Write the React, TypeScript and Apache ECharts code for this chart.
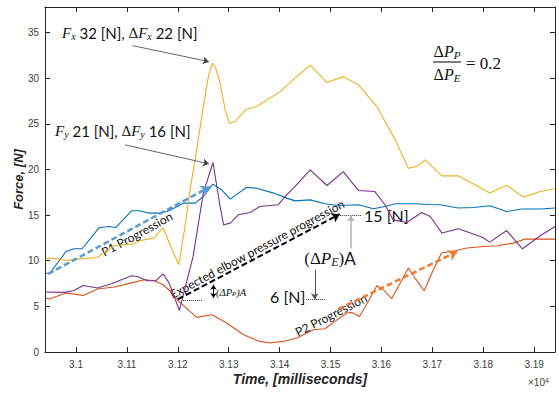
import React, { useEffect, useRef } from "react";
import * as echarts from "echarts";

// ---- Axis ticks ----
const xTickValues = [31000, 31100, 31200, 31300, 31400, 31500, 31600, 31700, 31800, 31900];
const xTickLabels = ["3.1", "3.11", "3.12", "3.13", "3.14", "3.15", "3.16", "3.17", "3.18", "3.19"];
const yTickValues = [0, 5, 10, 15, 20, 25, 30, 35];
const yTickLabels = ["0", "5", "10", "15", "20", "25", "30", "35"];
const xRange = [30939, 31941];
const yRange = [0, 37.8];

// ---- Series: [time (ms), force (N)] ----
const blueSeries = [
  [30940, 8.65], [30948, 8.57], [30980, 11.01], [30996, 11.31], [31012, 11.31], [31045, 13.61],
  [31065, 13.75], [31078, 13.64], [31109, 15.47], [31124, 15.47], [31143, 15.22], [31163, 15.22],
  [31179, 15.39], [31202, 16.02], [31211, 16.31], [31234, 16.31], [31250, 17.04], [31269, 18.39],
  [31286, 17.77], [31303, 16.75], [31319, 17.41], [31335, 18.02], [31355, 17.95], [31388, 17.41],
  [31414, 16.86], [31430, 16.56], [31460, 16.67], [31489, 16.24], [31515, 16.05], [31555, 16.13],
  [31584, 15.69], [31607, 15.94], [31627, 16.24], [31663, 16.24], [31696, 16.16], [31715, 16.13],
  [31751, 15.77], [31781, 15.83], [31813, 16.02], [31846, 15.39], [31876, 15.66], [31912, 15.66],
  [31941, 15.77],
];
const yellowSeries = [
  [30940, 10.18], [30948, 10.29], [30960, 10.21], [30980, 10.03], [31002, 10.18], [31042, 10.36],
  [31058, 11.01], [31075, 11.64], [31091, 11.75], [31111, 11.82], [31127, 12.22], [31153, 12.48],
  [31171, 13.64], [31186, 11.56], [31202, 9.56], [31214, 13.75], [31224, 17.77], [31237, 22.15],
  [31250, 26.89], [31260, 30.17], [31268, 31.64], [31274, 31.2], [31283, 29.45], [31293, 26.53],
  [31301, 25.07], [31312, 25.25], [31335, 26.6], [31355, 26.89], [31401, 28.53], [31430, 30.0],
  [31460, 31.42], [31493, 29.52], [31525, 30.17], [31555, 29.26], [31591, 26.89], [31627, 23.24],
  [31653, 20.14], [31669, 20.32], [31686, 21.05], [31719, 19.3], [31751, 19.3], [31813, 17.41],
  [31846, 18.26], [31879, 16.97], [31912, 17.58], [31941, 17.88],
];
const purpleSeries = [
  [30940, 6.57], [30980, 6.53], [30996, 6.74], [31014, 7.29], [31042, 7.01], [31068, 7.44],
  [31109, 8.35], [31120, 8.28], [31140, 7.81], [31157, 7.81], [31171, 8.57], [31183, 7.55],
  [31203, 4.55], [31230, 10.47], [31250, 17.41], [31269, 20.76], [31283, 15.94], [31290, 13.94],
  [31303, 14.12], [31319, 15.03], [31342, 15.28], [31361, 15.94], [31397, 16.13], [31411, 17.04],
  [31430, 18.13], [31460, 19.96], [31493, 18.24], [31525, 19.77], [31555, 17.69], [31587, 17.58],
  [31607, 16.13], [31623, 14.48], [31650, 14.19], [31679, 15.28], [31696, 14.85], [31719, 13.03],
  [31751, 13.5], [31797, 12.59], [31813, 12.04], [31846, 13.31], [31877, 11.31], [31912, 12.73],
  [31941, 13.75],
];
const orangeSeries = [
  [30940, 5.91], [30948, 5.8], [30980, 6.46], [31014, 6.2], [31042, 6.9], [31075, 7.12],
  [31107, 7.55], [31134, 7.92], [31153, 7.84], [31171, 7.37], [31186, 6.63], [31202, 5.54],
  [31237, 3.79], [31267, 4.08], [31296, 3.17], [31329, 1.89], [31361, 1.16], [31381, 0.99],
  [31407, 1.16], [31434, 1.53], [31466, 2.44], [31489, 2.55], [31509, 3.35], [31532, 4.27],
  [31542, 4.34], [31557, 3.9], [31574, 5.54], [31591, 7.26], [31604, 6.82], [31620, 5.84],
  [31637, 7.55], [31653, 9.2], [31666, 8.1], [31684, 6.71], [31702, 9.01], [31718, 10.84],
  [31745, 11.09], [31768, 11.39], [31800, 11.56], [31827, 11.64], [31859, 11.93], [31882, 12.37],
  [31941, 12.37],
];

// ---- Annotation geometry (data coordinates) ----
const p1Progression = [[30945, 8.55], [31263, 18.1]];
const elbowProgression = [[31200, 5.78], [31518, 15.1]];
const p2Progression = [[31515, 4.7], [31749, 11.0]];
const fxArrow = [[31111, 33.57], [31261, 31.81]];
const fyArrow = [[31096, 22.7], [31261, 20.62]];
const dpPDotted = [[31210, 5.62], [31248, 5.62]];
const dpPArrow = [[31270, 7.37], [31270, 5.91]];
const sixDotted = [[31452, 5.73], [31489, 5.73]];
const sixArrow = [[31469, 9.0], [31469, 5.78]];
const fifteenDotted = [[31515, 15.03], [31561, 15.03]];
const fifteenArrow = [[31540, 11.39], [31540, 14.95]];

const axisColor = "#262626";
const labelColor = "#404040";
const sans = "'Liberation Sans', Arial, sans-serif";
const serif = "'Liberation Serif', 'DejaVu Serif', serif";
const body = "Lato, 'Open Sans', sans-serif";

function seg(pts: number[][], color: string, width: number, type: any, startSym: string, endSym: string, size: number) {
  return [
    { coord: pts[0], symbol: startSym, symbolSize: size, lineStyle: { color, width, type }, itemStyle: { color: "#000" } },
    { coord: pts[1], symbol: endSym, symbolSize: size, itemStyle: { color: "#000" } },
  ];
}

const mathRich = (size: number) => ({
  it: { fontFamily: serif, fontStyle: "italic", fontSize: size, fill: "#111" },
  m: { fontFamily: serif, fontSize: size, fill: "#111" },
  sub: { fontFamily: serif, fontStyle: "italic", fontSize: Math.round(size * 0.68), fill: "#111", verticalAlign: "bottom", padding: [size * 0.5, 0, 0, 0] },
  n: { fontFamily: body, fontSize: size, fill: "#111" },
});

export default function App() {
  const ref = useRef<HTMLDivElement>(null);
  useEffect(() => {
    if (!ref.current) return;
    const chart = echarts.init(ref.current, null, { renderer: "svg" });
    const baseX = {
      type: "value",
      min: xRange[0],
      max: xRange[1],
      splitLine: { show: false },
      axisLine: { show: true, onZero: false, lineStyle: { color: axisColor, width: 1 } },
    };
    const baseY = {
      type: "value",
      min: yRange[0],
      max: yRange[1],
      splitLine: { show: false },
      axisLine: { show: true, onZero: false, lineStyle: { color: axisColor, width: 1 } },
    };
    const option: any = {
      animation: false,
      grid: { left: 45, right: 4, top: 7, bottom: 43, containLabel: false },
      xAxis: [
        {
          ...baseX,
          position: "bottom",
          axisTick: { show: true, inside: true, length: 5, customValues: xTickValues, lineStyle: { color: axisColor } },
          axisLabel: {
            customValues: xTickValues,
            formatter: (v: number) => xTickLabels[xTickValues.indexOf(v)] ?? "",
            color: labelColor, fontSize: 10, fontFamily: sans, margin: 7,
          },
          name: "Time, [milliseconds]",
          nameLocation: "middle",
          nameGap: 20,
          nameMoveOverlap: false,
          nameTextStyle: { fontFamily: sans, fontWeight: "bold", fontStyle: "italic", fontSize: 14, color: axisColor },
        },
        {
          ...baseX,
          position: "top",
          axisTick: { show: true, inside: true, length: 5, customValues: xTickValues, lineStyle: { color: axisColor } },
          axisLabel: { show: false },
        },
      ],
      yAxis: [
        {
          ...baseY,
          position: "left",
          axisTick: { show: true, inside: true, length: 5, customValues: yTickValues, lineStyle: { color: axisColor } },
          axisLabel: {
            customValues: yTickValues,
            formatter: (v: number) => yTickLabels[yTickValues.indexOf(v)] ?? "",
            color: labelColor, fontSize: 10, fontFamily: sans, margin: 6,
          },
          name: "Force, [N]",
          nameLocation: "middle",
          nameGap: 20,
          nameMoveOverlap: false,
          nameTextStyle: { fontFamily: sans, fontWeight: "bold", fontStyle: "italic", fontSize: 13, color: axisColor },
        },
        {
          ...baseY,
          position: "right",
          axisTick: { show: true, inside: true, length: 5, customValues: yTickValues, lineStyle: { color: axisColor } },
          axisLabel: { show: false },
        },
      ],
      series: [
        { type: "line", data: blueSeries, showSymbol: false, symbol: "none", lineStyle: { color: "#0072BD", width: 1.1 }, z: 2 },
        { type: "line", data: orangeSeries, showSymbol: false, symbol: "none", lineStyle: { color: "#D95319", width: 1.1 }, z: 2 },
        { type: "line", data: yellowSeries, showSymbol: false, symbol: "none", lineStyle: { color: "#EDB120", width: 1.1 }, z: 2 },
        { type: "line", data: purpleSeries, showSymbol: false, symbol: "none", lineStyle: { color: "#7E2F8E", width: 1.1 }, z: 2 },
        {
          type: "line",
          data: [],
          z: 5,
          markLine: {
            silent: true,
            animation: false,
            label: { show: false },
            data: [
              seg(p1Progression, "#5B9BD5", 2.5, [6, 3], "none", "arrow", 9),
              seg(elbowProgression, "#000", 2, [6, 3], "none", "arrow", 8),
              seg(p2Progression, "#ED7D31", 2.5, [6, 3], "none", "arrow", 9),
              seg(fxArrow, "#404040", 0.8, "solid", "none", "arrow", 6),
              seg(fyArrow, "#404040", 0.8, "solid", "none", "arrow", 6),
              seg(dpPDotted, "#333", 1, "dotted", "none", "none", 1),
              seg(dpPArrow, "#000", 1, "solid", "arrow", "arrow", 5),
              seg(sixDotted, "#333", 1, "dotted", "none", "none", 1),
              seg(sixArrow, "#555", 1, "solid", "none", "arrow", 6),
              seg(fifteenDotted, "#333", 1, "dotted", "none", "none", 1),
              seg(fifteenArrow, "#b0b0b0", 1.5, "solid", "none", "arrow", 6),
            ],
          },
        },
      ],
      graphic: [
        {
          type: "text", x: 62, y: 33,
          style: { text: "{it|F}{sub|x}{n| 32 [N], }{m|Δ}{it|F}{sub|x}{n| 22 [N]}", rich: mathRich(15), verticalAlign: "middle", align: "left" },
        },
        {
          type: "text", x: 55, y: 131,
          style: { text: "{it|F}{sub|y}{n| 21 [N], }{m|Δ}{it|F}{sub|y}{n| 16 [N]}", rich: mathRich(15), verticalAlign: "middle", align: "left" },
        },
        {
          type: "text", x: 447, y: 51,
          style: { text: "{m|Δ}{it|P}{sub|P}", rich: mathRich(16), verticalAlign: "middle", align: "center" },
        },
        { type: "line", shape: { x1: 433, y1: 62, x2: 461, y2: 62 }, style: { stroke: "#555", lineWidth: 1.5 } },
        {
          type: "text", x: 447, y: 74,
          style: { text: "{m|Δ}{it|P}{sub|E}", rich: mathRich(16), verticalAlign: "middle", align: "center" },
        },
        {
          type: "text", x: 466, y: 63,
          style: { text: "= 0.2", fontFamily: serif, fontSize: 17, fill: "#111", verticalAlign: "middle", align: "left" },
        },
        {
          type: "text", x: 216, y: 292,
          style: {
            text: "{it|(ΔP}{sub|P}{it|)A}",
            rich: {
              it: { fontFamily: serif, fontStyle: "italic", fontSize: 10.5, fill: "#111" },
              sub: { fontFamily: serif, fontStyle: "italic", fontSize: 7, fill: "#111", verticalAlign: "bottom", padding: [4, 0, 0, 0] },
            },
            verticalAlign: "middle", align: "left",
          },
        },
        {
          type: "text", x: 270, y: 296,
          style: { text: "6 [N]", fontFamily: body, fontSize: 16, fill: "#111", verticalAlign: "middle", align: "left" },
        },
        {
          type: "text", x: 330, y: 258,
          style: { text: "{m|(Δ}{it|P}{sub|E}{m|)}{n|A}", rich: mathRich(17), verticalAlign: "middle", align: "center" },
        },
        {
          type: "text", x: 364, y: 215,
          style: { text: "15 [N]", fontFamily: body, fontSize: 16, fill: "#111", verticalAlign: "middle", align: "left" },
        },
        {
          type: "text", x: 137, y: 234, rotation: 0.5,
          style: { text: "P1 Progression", fontFamily: body, fontSize: 12, fill: "#111", verticalAlign: "middle", align: "center" },
        },
        {
          type: "text", x: 257, y: 249, rotation: 0.49,
          style: { text: "Expected elbow pressure progression", fontFamily: body, fontSize: 12, fill: "#111", verticalAlign: "middle", align: "center" },
        },
        {
          type: "text", x: 331, y: 315, rotation: 0.47,
          style: { text: "P2 Progression", fontFamily: body, fontSize: 12, fill: "#111", verticalAlign: "middle", align: "center" },
        },
        {
          type: "text", x: 528, y: 382,
          style: {
            text: "{a|×10}{b|4}",
            rich: {
              a: { fontFamily: sans, fontSize: 10, fill: labelColor },
              b: { fontFamily: sans, fontSize: 7, fill: labelColor, verticalAlign: "top" },
            },
            verticalAlign: "middle", align: "left",
          },
        },
      ],
    };
    chart.setOption(option);
    return () => chart.dispose();
  }, []);
  return (
    <div
      ref={ref}
      style={{ position: "fixed", left: 0, top: 0, width: 559, height: 395, background: "#fff" }}
    />
  );
}
